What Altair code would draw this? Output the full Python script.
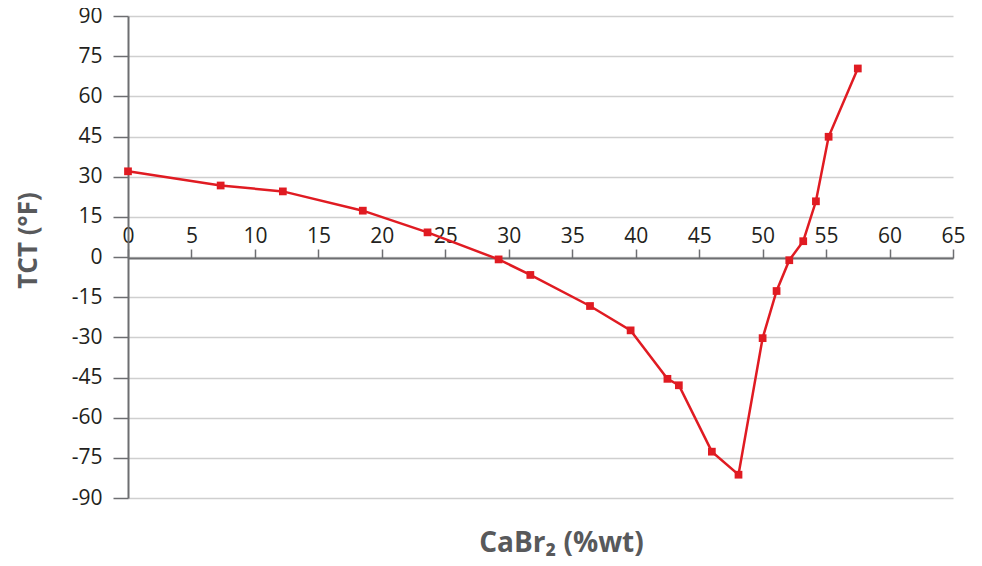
import altair as alt
import pandas as pd

cabr2 = [0, 7.3, 12.2, 18.5, 23.6, 29.2, 31.7, 36.4, 39.6, 42.5, 43.4, 46.0, 48.1,
         50.0, 51.1, 52.1, 53.2, 54.2, 55.2, 57.5]
tct = [32, 26.7, 24.5, 17.3, 9.2, -0.9, -6.7, -18.3, -27.4, -45.5, -47.9, -72.7, -81.3,
       -30.3, -12.7, -1.2, 5.9, 20.8, 44.9, 70.4]
x_ticks = list(range(0, 70, 5))
y_ticks = list(range(-90, 105, 15))

df = pd.DataFrame({"x": cabr2, "y": tct, "order": list(range(len(cabr2)))})

FONT = "Open Sans"
RED = "#e01b22"

x_enc = alt.X(
    "x:Q",
    scale=alt.Scale(domain=[0, 65], nice=False, zero=False),
    axis=alt.Axis(
        orient="top",
        offset=-242,
        values=x_ticks,
        grid=False,
        title="CaBr\u2082 (%wt)",
        titleFont=FONT,
        titleFontSize=28,
        titleFontWeight="bold",
        titleColor="#58595b",
        titleX=433,
        titleY=293,
        titleAnchor="middle",
        titleAlign="center",
        titleBaseline="alphabetic",
        labelFont=FONT,
        labelFontSize=21,
        labelColor="#231f20",
        labelPadding=3,
        labelFlush=False,
        labelOverlap=False,
        tickSize=9,
        tickColor="#6d6e71",
        tickWidth=1.5,
        domainColor="#6d6e71",
        domainWidth=2,
    ),
)
y_enc = alt.Y(
    "y:Q",
    scale=alt.Scale(domain=[-90, 90], nice=False, zero=False),
    axis=alt.Axis(
        values=y_ticks,
        grid=True,
        gridColor="#cfcfcf",
        gridWidth=1.5,
        title="TCT (\u00b0F)",
        titleFont=FONT,
        titleFontSize=26,
        titleFontWeight="bold",
        titleColor="#58595b",
        titleX=-100,
        titleY=224,
        titleAngle=-90,
        titleAlign="center",
        titleBaseline="middle",
        labelFont=FONT,
        labelFontSize=21,
        labelColor="#231f20",
        labelPadding=11,
        labelFlush=False,
        labelOverlap=False,
        labelExpr="replace(datum.label, '\u2212', '-')",
        tickSize=15,
        tickColor="#6d6e71",
        tickWidth=1.5,
        domainColor="#6d6e71",
        domainWidth=2,
    ),
)

line = alt.Chart(df).mark_line(color=RED, strokeWidth=2.5).encode(
    x=x_enc, y=y_enc, order="order:Q"
)
pts = alt.Chart(df).mark_point(shape="square", filled=True, color=RED, size=60, opacity=1).encode(
    x="x:Q", y="y:Q"
)

chart = (
    alt.layer(line, pts)
    .properties(
        width=825,
        height=482,
        padding={"left": 120, "top": 8, "right": 20, "bottom": 60},
        autosize=alt.AutoSizeParams(type="none"),
        background="white",
    )
    .configure_view(stroke=None)
)

chart.save("out.html", embed_options={"renderer": "svg", "actions": False})
